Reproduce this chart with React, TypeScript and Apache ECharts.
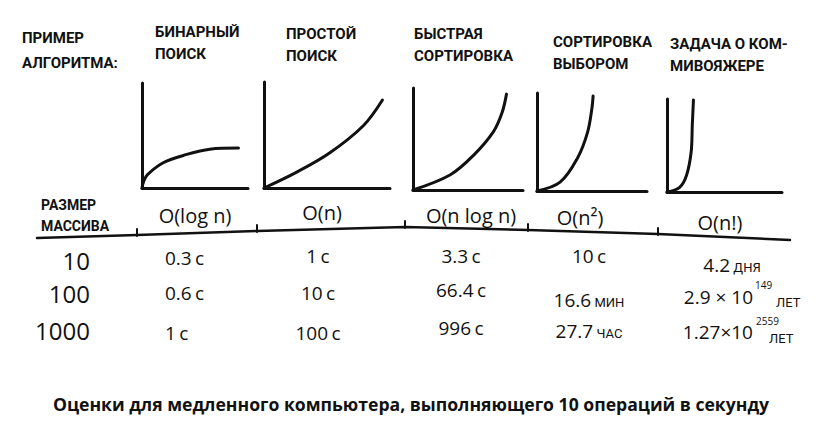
import React, { useEffect, useRef } from "react";
import * as echarts from "echarts";

// ---- data ----
const rowHeaderLabel = "ПРИМЕР\nАЛГОРИТМА:";
const sizeHeaderLabel = "РАЗМЕР\nМАССИВА";
const algorithmNames = ["БИНАРНЫЙ\nПОИСК", "ПРОСТОЙ\nПОИСК", "БЫСТРАЯ\nСОРТИРОВКА", "СОРТИРОВКА\nВЫБОРОМ", "ЗАДАЧА О КОМ-\nМИВОЯЖЕРЕ"];
const complexities = ["O(log n)", "O(n)", "O(n log n)", "O(n²)", "O(n!)"];
const arraySizes = ["10", "100", "1000"];

const binaryValues = ["0.3", "0.6", "1"];
const binaryUnits = ["с", "с", "с"];
const simpleValues = ["1", "10", "100"];
const simpleUnits = ["с", "с", "с"];
const quickValues = ["3.3", "66.4", "996"];
const quickUnits = ["с", "с", "с"];
const selectionValues = ["10", "16.6", "27.7"];
const selectionUnits = ["с", "МИН", "ЧАС"];
const tspValues = ["4.2", "2.9 × 10", "1.27×10"];
const tspExponents = ["", "149", "2559"];
const tspUnits = ["ДНЯ", "ЛЕТ", "ЛЕТ"];

const caption = "Оценки для медленного компьютера, выполняющего 10 операций в секунду";

// curve sketches (x, y in 0..10 units of each small plot)
const binaryCurve = [[0, 0], [0.15, 0.6], [0.5, 1.25], [2.0, 2.4], [3.9, 3.1], [6.4, 3.7], [9.1, 3.8]];
const simpleCurve = [[0, 0], [2.6, 1.5], [5.2, 3.3], [7.9, 5.9], [9.4, 8.3]];
const quickCurve = [[0, 0], [3.4, 1.5], [5.5, 3.4], [7.3, 5.7], [8.1, 7.6], [8.5, 9.4]];
const selectionCurve = [[0, 0], [2.1, 0.9], [3.7, 3.4], [4.6, 6.0], [5.0, 8.5], [5.1, 9.7]];
const tspCurve = [[0, 0], [1.1, 0.5], [1.7, 1.8], [2.1, 4.3], [2.2, 7.2], [2.3, 9.9]];

// ---- layout ----
const INK = "#111";
const HAND = "'Open Sans', 'DejaVu Sans', sans-serif";
const CAPS = "Roboto, 'DejaVu Sans', sans-serif";

const gridBoxes = [
  { left: 142, top: 83, width: 106, height: 105 },
  { left: 264, top: 82, width: 126, height: 106 },
  { left: 413, top: 88, width: 110, height: 102 },
  { left: 537, top: 93, width: 110, height: 98 },
  { left: 667, top: 99, width: 115, height: 93 },
];
const titlePos = [
  [155, 21],
  [286, 23],
  [414, 23],
  [553, 31],
  [670, 33],
];

export default function App() {
  const ref = useRef<HTMLDivElement>(null);
  useEffect(() => {
    const chart = echarts.init(ref.current!, null, { renderer: "svg" });
    const curves = [binaryCurve, simpleCurve, quickCurve, selectionCurve, tspCurve];

    const axisCommon = (i: number) => ({
      type: "value",
      gridIndex: i,
      min: 0,
      max: 10,
      axisLine: { show: true, onZero: false, lineStyle: { color: INK, width: 3, cap: "round" } },
      axisTick: { show: false },
      axisLabel: { show: false },
      splitLine: { show: false },
    });

    const g: any[] = [];
    const capsText = (text: string, x: number, y: number, size = 15, lh = 23) =>
      g.push({
        type: "text",
        x,
        y,
        style: { text, fill: INK, fontFamily: CAPS, fontWeight: "bold", fontSize: size, lineHeight: lh, align: "left", verticalAlign: "top" },
      });

    capsText(rowHeaderLabel, 22, 25, 15, 25);
    algorithmNames.forEach((n, i) => capsText(n, titlePos[i][0], titlePos[i][1], 15, 22));
    capsText(sizeHeaderLabel, 41, 194, 14, 21);

    // header rule
    g.push({
      type: "polyline",
      shape: { points: [[37, 238], [137, 235], [257, 231], [405, 227], [528, 230], [658, 234], [790, 240]] },
      style: { stroke: INK, lineWidth: 2.5, fill: null, lineCap: "round", lineJoin: "round" },
    });
    [[137, 229, 236], [257, 225, 232], [405, 221, 228], [528, 224, 231], [658, 228, 235]].forEach(([x, y1, y2]) =>
      g.push({ type: "line", shape: { x1: x, y1, x2: x, y2 }, style: { stroke: INK, lineWidth: 2, lineCap: "round" } })
    );

    // complexity headers
    const complexityPos = [[195, 215], [322, 212], [471, 215], [580, 217], [720, 222]];
    complexities.forEach((c, i) =>
      g.push({
        type: "text",
        x: complexityPos[i][0],
        y: complexityPos[i][1],
        style: { text: c, fill: INK, fontFamily: HAND, fontSize: 20, align: "center", verticalAlign: "middle" },
      })
    );

    // sizes
    const sizeY = [260, 293, 330];
    arraySizes.forEach((s, i) =>
      g.push({
        type: "text",
        x: 90,
        y: sizeY[i],
        style: { text: s, fill: INK, fontFamily: HAND, fontSize: 24, lineHeight: 26, align: "right", verticalAlign: "middle" },
      })
    );

    const rich = {
      v: { fontFamily: HAND, fontSize: 19, fill: INK, verticalAlign: "bottom", lineHeight: 24 },
      u: { fontFamily: HAND, fontSize: 19, fill: INK, verticalAlign: "bottom", lineHeight: 24 },
      s: { fontFamily: CAPS, fontSize: 13, fill: INK, verticalAlign: "bottom", lineHeight: 21 },
    };
    const cell = (val: string, unit: string, x: number, y: number, align: string) =>
      g.push({
        type: "text",
        x,
        y,
        style: {
          text: `{v|${val}} {${unit === "с" ? "u" : "s"}|${unit}}`,
          rich,
          align,
          verticalAlign: "middle",
        },
      });

    const cols = [
      { vals: binaryValues, units: binaryUnits, x: 165, align: "left", ys: [255, 290, 330] },
      { vals: simpleValues, units: simpleUnits, x: 318, align: "center", ys: [253, 290, 330] },
      { vals: quickValues, units: quickUnits, x: 461, align: "center", ys: [253, 287, 325] },
      { vals: selectionValues, units: selectionUnits, x: 589, align: "center", ys: [253, 297, 328] },
    ];
    cols.forEach((c) => c.vals.forEach((v, r) => cell(v, c.units[r], c.x, c.ys[r], c.align)));

    // travelling salesman column
    cell(tspValues[0], tspUnits[0], 732, 262, "center");
    const tspRows = [
      null,
      { y: 297, ex: 755, ey: 285, ux: 776, uy: 302 },
      { y: 332, ex: 756, ey: 321, ux: 769, uy: 338 },
    ];
    tspRows.forEach((p, r) => {
      if (!p) return;
      g.push({
        type: "text",
        x: 753,
        y: p.y,
        style: { text: tspValues[r], fill: INK, fontFamily: HAND, fontSize: 19, align: "right", verticalAlign: "middle" },
      });
      g.push({
        type: "text",
        x: p.ex,
        y: p.ey,
        style: { text: tspExponents[r], fill: INK, fontFamily: HAND, fontSize: 10, align: "left", verticalAlign: "middle" },
      });
      g.push({
        type: "text",
        x: p.ux,
        y: p.uy,
        style: { text: tspUnits[r], fill: INK, fontFamily: CAPS, fontSize: 13, align: "left", verticalAlign: "middle" },
      });
    });

    // caption
    g.push({
      type: "text",
      x: 411,
      y: 404,
      style: { text: caption, fill: INK, fontFamily: "'Open Sans', sans-serif", fontWeight: "bold", fontSize: 17.6, align: "center", verticalAlign: "middle" },
    });

    chart.setOption({
      animation: false,
      backgroundColor: "#fff",
      grid: gridBoxes.map((b) => ({ ...b, containLabel: false })),
      xAxis: curves.map((_, i) => axisCommon(i)),
      yAxis: curves.map((_, i) => axisCommon(i)),
      series: curves.map((d, i) => ({
        type: "line",
        xAxisIndex: i,
        yAxisIndex: i,
        data: d,
        smooth: 0.35,
        showSymbol: false,
        silent: true,
        lineStyle: { color: INK, width: 3, cap: "round", join: "round" },
      })),
      graphic: g,
    });
    return () => chart.dispose();
  }, []);
  return <div ref={ref} style={{ position: "fixed", left: 0, top: 0, width: 830, height: 421, background: "#fff" }} />;
}
